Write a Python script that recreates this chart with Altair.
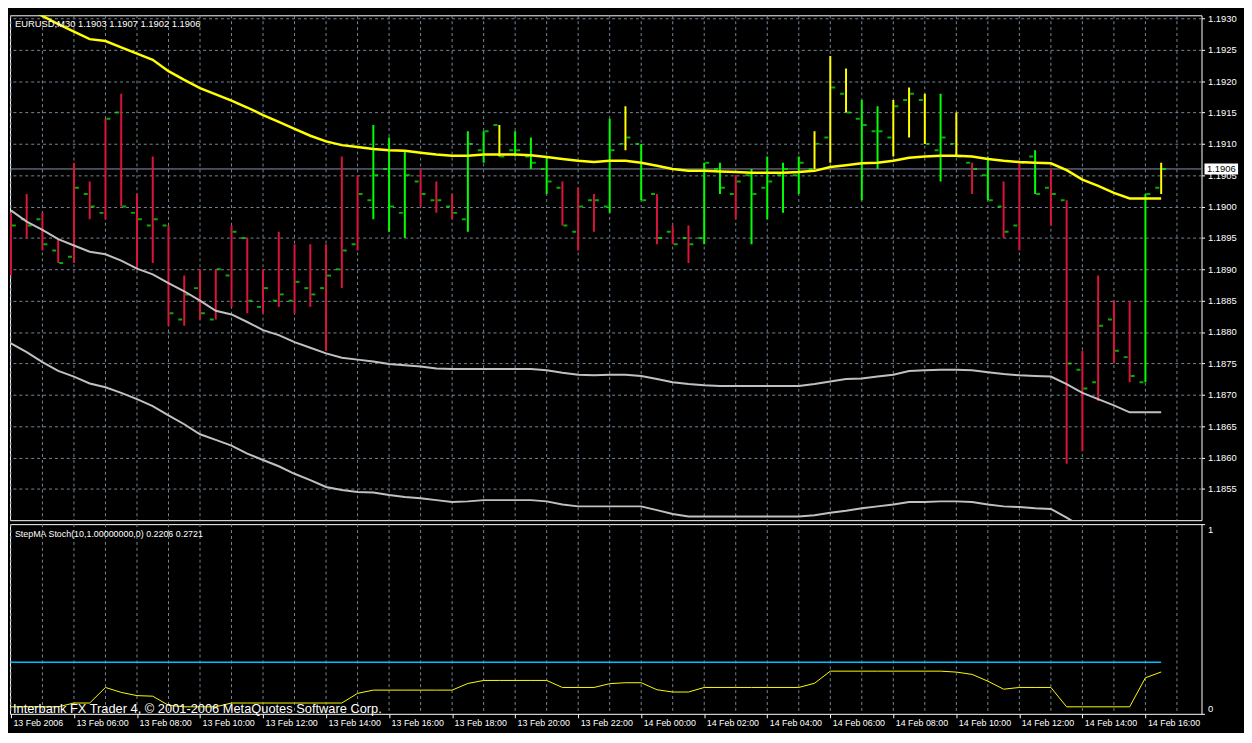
import json
import altair as alt
import pandas as pd

# ---------------- data ----------------
bar_index = list(range(74))

opens = [1.1898, 1.1898, 1.1898, 1.1893, 1.1892, 1.1902, 1.1899, 1.1915, 1.1899, 1.1897,
         1.1897, 1.1882, 1.1887, 1.1882, 1.1889, 1.1895, 1.1884, 1.1885, 1.1885, 1.1887,
         1.1887, 1.1890, 1.1894, 1.1901, 1.1906, 1.1899, 1.1904, 1.1901, 1.1900, 1.1898,
         1.1909, 1.1913, 1.1909, 1.1908, 1.1906, 1.1903, 1.1896, 1.1901, 1.1900, 1.1910,
         1.1910, 1.1902, 1.1896, 1.1895, 1.1895, 1.1906, 1.1902, 1.1905, 1.1903, 1.1905,
         1.1905, 1.1906, 1.1911, 1.1918, 1.1914, 1.1912, 1.1911, 1.1917, 1.1917, 1.1909,
         1.1910, 1.1907, 1.1905, 1.1900, 1.1897, 1.1908, 1.1903, 1.1901, 1.1874, 1.1872,
         1.1882, 1.1876, 1.1872, 1.1903]
highs = [1.1899, 1.1902, 1.1899, 1.1895, 1.1907, 1.1904, 1.1914, 1.1918, 1.1902, 1.1908,
         1.1897, 1.1889, 1.1890, 1.1890, 1.1897, 1.1895, 1.1890, 1.1896, 1.1894, 1.1894,
         1.1894, 1.1908, 1.1905, 1.1913, 1.1911, 1.1909, 1.1906, 1.1904, 1.1902, 1.1912,
         1.1912, 1.1913, 1.1912, 1.1911, 1.1908, 1.1904, 1.1903, 1.1902, 1.1914, 1.1916,
         1.1910, 1.1902, 1.1897, 1.1897, 1.1907, 1.1907, 1.1905, 1.1906, 1.1908, 1.1907,
         1.1908, 1.1912, 1.1924, 1.1922, 1.1917, 1.1916, 1.1917, 1.1919, 1.1918, 1.1918,
         1.1915, 1.1907, 1.1908, 1.1904, 1.1907, 1.1909, 1.1906, 1.1901, 1.1877, 1.1889,
         1.1885, 1.1885, 1.1902, 1.1907]
lows = [1.1889, 1.1895, 1.1893, 1.1891, 1.1891, 1.1898, 1.1898, 1.1900, 1.1890, 1.1891,
        1.1881, 1.1881, 1.1882, 1.1882, 1.1884, 1.1883, 1.1883, 1.1884, 1.1883, 1.1884,
        1.1877, 1.1887, 1.1893, 1.1898, 1.1896, 1.1895, 1.1900, 1.1899, 1.1898, 1.1896,
        1.1907, 1.1908, 1.1908, 1.1906, 1.1902, 1.1897, 1.1893, 1.1896, 1.1899, 1.1909,
        1.1901, 1.1894, 1.1894, 1.1891, 1.1894, 1.1902, 1.1898, 1.1894, 1.1898, 1.1899,
        1.1902, 1.1906, 1.1907, 1.1915, 1.1901, 1.1906, 1.1908, 1.1911, 1.1910, 1.1904,
        1.1908, 1.1902, 1.1901, 1.1895, 1.1893, 1.1902, 1.1897, 1.1859, 1.1861, 1.1869,
        1.1875, 1.1872, 1.1872, 1.1902]
closes = [1.1897, 1.1897, 1.1894, 1.1891, 1.1903, 1.1900, 1.1914, 1.1900, 1.1898, 1.1898,
          1.1883, 1.1886, 1.1883, 1.1890, 1.1896, 1.1885, 1.1887, 1.1886, 1.1888, 1.1886,
          1.1889, 1.1893, 1.1902, 1.1905, 1.1900, 1.1905, 1.1902, 1.1901, 1.1899, 1.1910,
          1.1912, 1.1908, 1.1909, 1.1907, 1.1904, 1.1897, 1.1900, 1.1901, 1.1909, 1.1911,
          1.1901, 1.1895, 1.1894, 1.1894, 1.1907, 1.1903, 1.1904, 1.1902, 1.1904, 1.1906,
          1.1907, 1.1910, 1.1919, 1.1915, 1.1913, 1.1912, 1.1916, 1.1918, 1.1910, 1.1911,
          1.1908, 1.1906, 1.1901, 1.1896, 1.1907, 1.1902, 1.1902, 1.1875, 1.1871, 1.1881,
          1.1877, 1.1873, 1.1902, 1.1906]
# R = red (down), G = green (up), Y = yellow (flat) colouring of each bar
trend = (["R"] * 23 + ["G", "G", "G", "R", "R", "R", "G", "G", "Y", "G", "G", "G",
         "R", "R", "R", "G", "Y", "G", "R", "R", "R", "G", "G", "R", "G", "G", "G", "G",
         "Y", "Y", "Y", "G", "G", "Y", "Y", "Y", "G", "Y", "R", "G", "R", "R", "G",
         "R", "R", "R", "R", "R", "R", "G", "Y"])

ma_yellow = [1.19328, 1.19316, 1.19304, 1.19291, 1.19279, 1.19267, 1.19264, 1.19254, 1.19244, 1.19234,
             1.19216, 1.19202, 1.19189, 1.19179, 1.19169, 1.19158, 1.19146, 1.19135, 1.19124, 1.19113,
             1.19104, 1.19098, 1.19095, 1.19092, 1.19090, 1.19089, 1.19086, 1.19083, 1.19081, 1.19081,
             1.19083, 1.19083, 1.19083, 1.19082, 1.19079, 1.19076, 1.19073, 1.19071, 1.19073, 1.19073,
             1.19070, 1.19065, 1.19060, 1.19057, 1.19057, 1.19056, 1.19055, 1.19054, 1.19054, 1.19054,
             1.19055, 1.19057, 1.19063, 1.19066, 1.19069, 1.19070, 1.19073, 1.19078, 1.19080, 1.19081,
             1.19081, 1.19080, 1.19076, 1.19073, 1.19071, 1.19070, 1.19069, 1.19058, 1.19043, 1.19033,
             1.19022, 1.19013, 1.19013, 1.19013]
ma_gray_upper = [1.18994, 1.18976, 1.18963, 1.18948, 1.18938, 1.18928, 1.18924, 1.18914, 1.18901, 1.18892,
                 1.18878, 1.18865, 1.18850, 1.18834, 1.18828, 1.18816, 1.18803, 1.18795, 1.18784, 1.18775,
                 1.18766, 1.18759, 1.18756, 1.18753, 1.18749, 1.18747, 1.18745, 1.18742, 1.18741, 1.18741,
                 1.18741, 1.18741, 1.18741, 1.18741, 1.18739, 1.18735, 1.18732, 1.18731, 1.18732, 1.18732,
                 1.18730, 1.18725, 1.18720, 1.18717, 1.18715, 1.18714, 1.18714, 1.18714, 1.18714, 1.18714,
                 1.18714, 1.18717, 1.18721, 1.18725, 1.18726, 1.18729, 1.18732, 1.18738, 1.18739, 1.18740,
                 1.18740, 1.18739, 1.18736, 1.18733, 1.18731, 1.18730, 1.18729, 1.18717, 1.18703, 1.18693,
                 1.18683, 1.18672, 1.18672, 1.18672]
ma_gray_lower = [1.18782, 1.18768, 1.18752, 1.18738, 1.18729, 1.18718, 1.18712, 1.18703, 1.18693, 1.18682,
                 1.18667, 1.18653, 1.18637, 1.18628, 1.18619, 1.18606, 1.18596, 1.18586, 1.18574, 1.18564,
                 1.18553, 1.18548, 1.18545, 1.18544, 1.18540, 1.18537, 1.18535, 1.18532, 1.18529, 1.18530,
                 1.18532, 1.18532, 1.18532, 1.18532, 1.18530, 1.18525, 1.18522, 1.18522, 1.18522, 1.18522,
                 1.18522, 1.18516, 1.18510, 1.18506, 1.18506, 1.18506, 1.18506, 1.18506, 1.18506, 1.18506,
                 1.18506, 1.18508, 1.18512, 1.18515, 1.18519, 1.18522, 1.18525, 1.18529, 1.18529, 1.18530,
                 1.18530, 1.18529, 1.18525, 1.18522, 1.18521, 1.18519, 1.18518, 1.18504, 1.18489, 1.18479,
                 1.18468, 1.18458, 1.18458, 1.18458]
stoch = [0.037, 0.037, 0.037, 0.037, 0.057, 0.057, 0.139, 0.113, 0.096, 0.093,
         0.045, 0.037, 0.037, 0.037, 0.057, 0.057, 0.057, 0.057, 0.057, 0.057,
         0.057, 0.057, 0.108, 0.125, 0.125, 0.125, 0.125, 0.125, 0.125, 0.160,
         0.176, 0.176, 0.176, 0.176, 0.176, 0.139, 0.139, 0.139, 0.159, 0.164,
         0.164, 0.127, 0.115, 0.115, 0.139, 0.139, 0.139, 0.139, 0.139, 0.139,
         0.139, 0.161, 0.225, 0.225, 0.225, 0.225, 0.225, 0.225, 0.225, 0.225,
         0.220, 0.208, 0.172, 0.130, 0.139, 0.139, 0.139, 0.037, 0.037, 0.037,
         0.037, 0.037, 0.190, 0.2206]
signal_level = [0.2721]
current_price = [1.1906]

price_ticks = [1.1855, 1.1860, 1.1865, 1.1870, 1.1875, 1.1880, 1.1885, 1.1890,
               1.1895, 1.1900, 1.1905, 1.1910, 1.1915, 1.1920, 1.1925, 1.1930]
time_labels = ["13 Feb 2006", "13 Feb 06:00", "13 Feb 08:00", "13 Feb 10:00", "13 Feb 12:00",
               "13 Feb 14:00", "13 Feb 16:00", "13 Feb 18:00", "13 Feb 20:00", "13 Feb 22:00",
               "14 Feb 00:00", "14 Feb 02:00", "14 Feb 04:00", "14 Feb 06:00", "14 Feb 08:00",
               "14 Feb 10:00", "14 Feb 12:00", "14 Feb 14:00", "14 Feb 16:00"]
time_ticks = list(range(0, 73, 4))
grid_x = list(range(0, 76, 2))

title_main = ["EURUSD,M30  1.1903 1.1907 1.1902 1.1906"]
title_sub = ["StepMA Stoch(10,1.00000000,0) 0.2206 0.2721"]
copyright_text = ["Interbank FX Trader 4, \u00a9 2001-2006 MetaQuotes Software Corp."]

# ---------------- styling ----------------
W, H1, H2 = 1206, 511, 192
FONT = "Liberation Sans"
GRID = "#778899"
RED, GREEN, YELLOW, SILVER = "#DC143C", "#00FF00", "#FFFF00", "#C0C0C0"

xs = alt.Scale(domain=[-0.06, 75.56], nice=False, zero=False)
ys_main = alt.Scale(domain=[1.18500, 1.19305], nice=False, zero=False)
ys_low = alt.Scale(domain=[0, 1], nice=False, zero=False)

y_axis_main = alt.Axis(orient="right", values=price_ticks, format=".4f", grid=True,
                       gridColor=GRID, gridDash=[3, 3], gridWidth=1, domain=False,
                       ticks=True, tickColor="white", tickSize=3, labelColor="white",
                       labelFont=FONT, labelFontSize=9.5, labelPadding=3,
                       labelOverlap=False, title=None)
y_axis_low = alt.Axis(orient="right", values=[0, 1], format="d", grid=False, domain=False,
                      ticks=True, tickColor="white", tickSize=3, labelColor="white",
                      labelFont=FONT, labelFontSize=9.5, labelPadding=3, labelFlush=True,
                      title=None)
label_expr = json.dumps(time_labels) + "[round(datum.value / 4)]"
x_axis_low = alt.Axis(orient="bottom", values=time_ticks, labelExpr=label_expr, grid=False,
                      domain=False, ticks=True, tickColor="white", tickSize=4,
                      labelColor="white", labelFont=FONT, labelFontSize=9,
                      labelAlign="left", labelPadding=1, labelOffset=2,
                      labelOverlap=False, labelFlush=False, title=None)

df = pd.DataFrame({"k": bar_index, "open": opens, "high": highs, "low": lows,
                   "close": closes, "trend": trend, "ma": ma_yellow,
                   "up": ma_gray_upper, "dn": ma_gray_lower, "stoch": stoch})
grid_df = pd.DataFrame({"g": grid_x})
price_df = pd.DataFrame({"p": current_price})

X = lambda f: alt.X(f, scale=xs, axis=None)
Ym = lambda f: alt.Y(f, scale=ys_main, axis=y_axis_main)

base = alt.Chart(df)

vgrid_main = alt.Chart(grid_df).mark_rule(color=GRID, strokeDash=[3, 3], strokeWidth=1).encode(
    x=X("g:Q"))
price_line = alt.Chart(price_df).mark_rule(color="#8796AE", strokeWidth=1).encode(y=Ym("p:Q"))
open_ticks = base.mark_tick(orient="horizontal", size=4, thickness=2, xOffset=-4,
                            color=GREEN, clip=True).encode(x=X("k:Q"), y=Ym("open:Q"))
close_ticks = base.mark_tick(orient="horizontal", size=4, thickness=2, xOffset=3,
                             color=GREEN, clip=True).encode(x=X("k:Q"), y=Ym("close:Q"))
hl_bars = base.mark_rule(strokeWidth=2, clip=True).encode(
    x=X("k:Q"), y=Ym("low:Q"), y2="high:Q",
    color=alt.Color("trend:N", scale=alt.Scale(domain=["R", "G", "Y"],
                                               range=[RED, GREEN, YELLOW]), legend=None))
gray_up = base.mark_line(color=SILVER, strokeWidth=2, clip=True).encode(x=X("k:Q"), y=Ym("up:Q"))
gray_dn = base.mark_line(color=SILVER, strokeWidth=2, clip=True).encode(x=X("k:Q"), y=Ym("dn:Q"))
ma_line = base.mark_line(color=YELLOW, strokeWidth=2.5, clip=True).encode(x=X("k:Q"), y=Ym("ma:Q"))
title_txt = alt.Chart(pd.DataFrame({"t": title_main})).mark_text(
    align="left", baseline="middle", color="white", font=FONT, fontSize=9.5).encode(
    x=alt.value(5), y=alt.value(9), text="t:N")
price_box = alt.Chart(price_df).mark_rule(color="white", strokeWidth=11, strokeCap="butt").encode(
    x=alt.value(W + 3), x2=alt.value(W + 37), y=Ym("p:Q"))
price_txt = alt.Chart(price_df).mark_text(color="black", font=FONT, fontSize=9.5,
                                          align="center", baseline="middle").encode(
    x=alt.value(W + 20), y=Ym("p:Q"), text=alt.Text("p:Q", format=".4f"))

main = alt.layer(vgrid_main, price_line, open_ticks, close_ticks, hl_bars, gray_up, gray_dn,
                 ma_line, title_txt, price_box, price_txt).properties(width=W, height=H1)

XL = lambda f: alt.X(f, scale=xs, axis=x_axis_low)
YL = lambda f: alt.Y(f, scale=ys_low, axis=y_axis_low)

vgrid_low = alt.Chart(grid_df).mark_rule(color=GRID, strokeDash=[3, 3], strokeWidth=1).encode(
    x=XL("g:Q"))
level_df = pd.DataFrame({"x0": [bar_index[0]], "x1": [bar_index[-1]], "lvl": signal_level})
level_line = alt.Chart(level_df).mark_rule(color="#00BFFF", strokeWidth=1.5).encode(
    x=XL("x0:Q"), x2="x1:Q", y=YL("lvl:Q"))
stoch_line = base.mark_line(color=YELLOW, strokeWidth=1).encode(x=XL("k:Q"), y=YL("stoch:Q"))
sub_txt = alt.Chart(pd.DataFrame({"t": title_sub})).mark_text(
    align="left", baseline="middle", color="white", font=FONT, fontSize=9).encode(
    x=alt.value(5), y=alt.value(10), text="t:N")
copy_txt = alt.Chart(pd.DataFrame({"t": copyright_text})).mark_text(
    align="left", baseline="alphabetic", color="white", font=FONT, fontSize=13).encode(
    x=alt.value(3), y=alt.value(H2 - 1), text="t:N")

lower = alt.layer(vgrid_low, level_line, stoch_line, sub_txt, copy_txt).properties(
    width=W, height=H2)

chart = (alt.vconcat(main, lower, spacing=2)
         .properties(background="black", padding=0)
         .configure_view(stroke="white", strokeWidth=1)
         .configure_axis(labelFont=FONT))

chart.save("out.html", embed_options={"renderer": "svg", "actions": False})
